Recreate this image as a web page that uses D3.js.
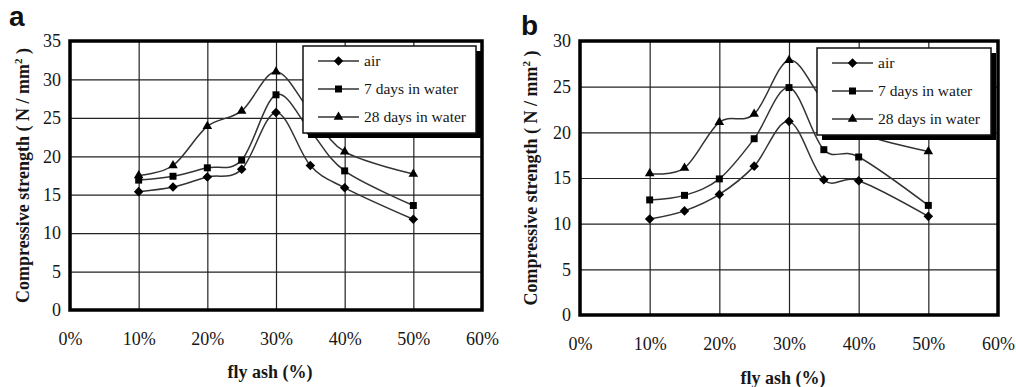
<!DOCTYPE html>
<html>
<head>
<meta charset="utf-8">
<script src="https://cdn.jsdelivr.net/npm/d3@7/dist/d3.min.js"></script>
<style>
  html, body { margin: 0; padding: 0; background: #fff; }
  svg { display: block; }
</style>
</head>
<body>
<svg id="chart" width="1016" height="387"></svg>
<script>
// Fly ash content (%) at which specimens were tested
const flyAsh = [10, 15, 20, 25, 30, 35, 40, 50];
const xTickValues = [0, 10, 20, 30, 40, 50, 60];
const seriesNames = ["air", "7 days in water", "28 days in water"];
const markerShapes = ["diamond", "square", "triangle"];

// Panel a: compressive strength (N/mm²)
const aAir = [15.4, 16.0, 17.3, 18.3, 25.7, 18.8, 15.9, 11.8];
const aWater7 = [16.9, 17.4, 18.5, 19.5, 28.0, 23.3, 18.1, 13.6];
const aWater28 = [17.5, 18.8, 23.9, 25.9, 31.0, 25.8, 20.6, 17.7];
const aYTicks = [0, 5, 10, 15, 20, 25, 30, 35];

// Panel b: compressive strength (N/mm²)
const bAir = [10.5, 11.4, 13.2, 16.3, 21.2, 14.8, 14.7, 10.8];
const bWater7 = [12.6, 13.1, 14.9, 19.3, 24.9, 18.1, 17.3, 12.0];
const bWater28 = [15.5, 16.1, 21.1, 22.0, 27.9, 23.4, 20.0, 17.9];
const bYTicks = [0, 5, 10, 15, 20, 25, 30];

const svg = d3.select("#chart");
const serif = "Liberation Serif";
const ink = "#161616";

const symbolFor = {
  diamond: d3.symbol().type(d3.symbolDiamond2).size(58),
  square: d3.symbol().type(d3.symbolSquare2).size(62),
  triangle: d3.symbol().type(d3.symbolTriangle2).size(66)
};

function drawPanel(p) {
  const g = svg.append("g");
  const x = d3.scaleLinear().domain([0, 60]).range([p.left, p.right]);
  const y = d3.scaleLinear().domain([0, d3.max(p.yTicks)]).range([p.bottom, p.top]);

  // grid
  g.append("g")
    .attr("transform", `translate(0,${p.bottom})`)
    .call(d3.axisBottom(x).tickValues(xTickValues).tickSize(-(p.bottom - p.top)).tickFormat(""))
    .call(s => s.select(".domain").remove())
    .call(s => s.selectAll("line").attr("stroke", "#222").attr("stroke-width", 1.2));
  g.append("g")
    .attr("transform", `translate(${p.left},0)`)
    .call(d3.axisLeft(y).tickValues(p.yTicks).tickSize(-(p.right - p.left)).tickFormat(""))
    .call(s => s.select(".domain").remove())
    .call(s => s.selectAll("line").attr("stroke", "#222").attr("stroke-width", 1.2));

  // tick labels
  g.append("g")
    .attr("transform", `translate(0,${p.bottom})`)
    .call(d3.axisBottom(x).tickValues(xTickValues).tickSize(0).tickPadding(p.xLabelPad).tickFormat(d => d + "%"))
    .attr("font-family", serif)
    .call(s => s.select(".domain").remove())
    .call(s => s.selectAll("text").attr("font-size", 18).attr("font-family", serif).attr("fill", ink));
  g.append("g")
    .attr("transform", `translate(${p.left},0)`)
    .call(d3.axisLeft(y).tickValues(p.yTicks).tickSize(0).tickPadding(9))
    .attr("font-family", serif)
    .call(s => s.select(".domain").remove())
    .call(s => s.selectAll("text").attr("font-size", 18).attr("font-family", serif).attr("fill", ink));

  // series, drawn as smoothed lines
  const line = d3.line()
    .x((d, i) => x(flyAsh[i]))
    .y(d => y(d))
    .curve(d3.curveCatmullRom.alpha(0));
  p.series.forEach(vals => {
    g.append("path")
      .datum(vals)
      .attr("d", line)
      .attr("fill", "none")
      .attr("stroke", "#333")
      .attr("stroke-width", 1.5);
  });
  p.series.forEach((vals, k) => {
    g.selectAll(null)
      .data(vals)
      .join("path")
      .attr("d", symbolFor[markerShapes[k]])
      .attr("transform", (d, i) => `translate(${x(flyAsh[i])},${y(d)})`)
      .attr("fill", "#000");
  });

  // legend with drop shadow
  const L = p.legend;
  g.append("rect")
    .attr("x", L.x + 5).attr("y", L.y + 5)
    .attr("width", L.w).attr("height", L.h)
    .attr("fill", "#000");
  g.append("rect")
    .attr("x", L.x).attr("y", L.y)
    .attr("width", L.w).attr("height", L.h)
    .attr("fill", "#fff").attr("stroke", "#111").attr("stroke-width", 1.5);
  seriesNames.forEach((name, k) => {
    const ry = L.y + 15 + k * 28;
    g.append("line")
      .attr("x1", L.x + 15).attr("x2", L.x + 56)
      .attr("y1", ry).attr("y2", ry)
      .attr("stroke", "#333").attr("stroke-width", 1.5);
    g.append("path")
      .attr("d", symbolFor[markerShapes[k]])
      .attr("transform", `translate(${L.x + 35.5},${ry})`)
      .attr("fill", "#000");
    g.append("text")
      .attr("x", L.x + 61).attr("y", ry)
      .attr("dy", "0.33em")
      .attr("font-family", serif)
      .attr("font-size", 15.5)
      .attr("fill", ink)
      .text(name);
  });

  // frame
  g.append("rect")
    .attr("x", p.left).attr("y", p.top)
    .attr("width", p.right - p.left).attr("height", p.bottom - p.top)
    .attr("fill", "none").attr("stroke", "#000").attr("stroke-width", 3.5);

  // axis titles
  g.append("text")
    .attr("x", (p.left + p.right) / 2 - 6).attr("y", p.xTitleY)
    .attr("text-anchor", "middle")
    .attr("font-family", serif).attr("font-weight", "bold").attr("font-size", 18)
    .attr("fill", ink)
    .text("fly ash (%)");
  const yt = g.append("text")
    .attr("transform", `translate(${p.yTitleX},${(p.top + p.bottom) / 2}) rotate(-90)`)
    .attr("text-anchor", "middle")
    .attr("font-family", serif).attr("font-weight", "bold").attr("font-size", 18)
    .attr("fill", ink);
  yt.append("tspan").text("Compressive strength ( N / mm");
  yt.append("tspan").attr("font-size", 11).attr("dy", -7).text("2");
  yt.append("tspan").attr("dy", 7).text(" )");

  // panel letter
  g.append("text")
    .attr("x", p.letterX).attr("y", p.letterY)
    .attr("font-family", "Liberation Sans")
    .attr("font-weight", "bold").attr("font-size", 28)
    .attr("fill", "#111")
    .text(p.letter);
}

drawPanel({
  letter: "a", letterX: 9, letterY: 26,
  left: 70, right: 482, top: 41, bottom: 310,
  yTicks: aYTicks, series: [aAir, aWater7, aWater28],
  xLabelPad: 22, xTitleY: 378, yTitleX: 29,
  legend: { x: 303, y: 46, w: 173, h: 87 }
});

drawPanel({
  letter: "b", letterX: 521, letterY: 35,
  left: 580, right: 998, top: 41, bottom: 315,
  yTicks: bYTicks, series: [bAir, bWater7, bWater28],
  xLabelPad: 22, xTitleY: 384, yTitleX: 537,
  legend: { x: 817, y: 48, w: 174, h: 87 }
});
</script>
</body>
</html>
